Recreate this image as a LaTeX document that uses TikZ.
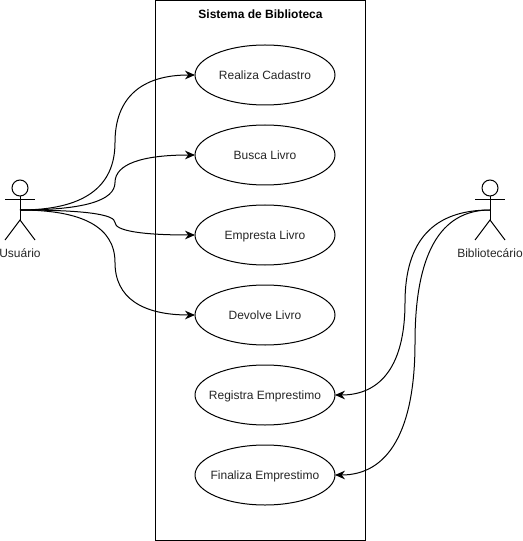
\documentclass[tikz,border=0pt]{standalone}
\usepackage{fontspec}
\setmainfont{Liberation Sans}
\usetikzlibrary{arrows.meta,shapes.geometric}

\tikzset{
    usecase/.style={draw, ellipse, fill=white, minimum width=105pt, minimum height=45pt,
        inner xsep=-12pt, inner ysep=0pt, outer sep=0pt, text height=8.5pt, text depth=2pt,
        font=\fontsize{9}{11}\selectfont, text=black!85},
    actorlabel/.style={inner sep=0pt, text height=8.5pt, text depth=2pt,
        font=\fontsize{9}{11}\selectfont, text=black!85},
    flow/.style={-{Stealth[length=7.5pt,width=6.5pt]}},
}

\begin{document}
\begin{tikzpicture}[x=0.75pt, y=-0.75pt, line width=0.75pt]
            \useasboundingbox (0,0) rectangle (523,541);

            \coordinate (U) at (20,210);
            \coordinate (B) at (490,210);

            % system box
            \draw (155.5,0.5) rectangle (365.5,540.5);
            \node[actorlabel, text=black, font=\fontsize{9}{11}\selectfont\bfseries] (titulo) at (260.5,14) {Sistema de Biblioteca};

            % use cases
            \node[usecase] (cadastro) at (265,75) {Realiza Cadastro};
            \node[usecase] (busca) at (265,155) {Busca Livro};
            \node[usecase] (empresta) at (265,235) {Empresta Livro};
            \node[usecase] (devolve) at (265,315) {Devolve Livro};
            \node[usecase] (registra) at (265,395) {Registra Emprestimo};
            \node[usecase] (finaliza) at (265,475) {Finaliza Emprestimo};

            % actor left
            \node[draw, circle, minimum size=12pt, inner sep=0pt, outer sep=0pt] (Uhead) at (20,188) {};
            \coordinate (Uhip) at (20,220);
            \draw (Uhead.south)--(Uhip);
            \draw (5,200)--(35,200);
            \draw (5,240)--(Uhip)--(35,240);
            \node[actorlabel] (usuario) at (20,253.5) {Usuário};

            % actor right
            \node[draw, circle, minimum size=12pt, inner sep=0pt, outer sep=0pt] (Bhead) at (490,188) {};
            \coordinate (Bhip) at (490,220);
            \draw (Bhead.south)--(Bhip);
            \draw (475,200)--(505,200);
            \draw (475,240)--(Bhip)--(505,240);
            \node[actorlabel] (bibliotecario) at (490,253.5) {Bibliotecário};

            % connectors
            \draw[flow] (U) .. controls +(63.3,0) and +(0,45) .. (115,142.5)
                .. controls +(0,-45) and +(-53.3,0) .. (cadastro.west);
            \draw[flow] (U) .. controls +(63.3,0) and +(0,18.3) .. (115,182.5)
                .. controls +(0,-18.3) and +(-53.3,0) .. (busca.west);
            \draw[flow] (U) .. controls +(63.3,0) and +(0,-8.3) .. (115,222.5)
                .. controls +(0,8.3) and +(-53.3,0) .. (empresta.west);
            \draw[flow] (U) .. controls +(63.3,0) and +(0,-35) .. (115,262.5)
                .. controls +(0,35) and +(-53.3,0) .. (devolve.west);
            \draw[flow] (B) .. controls +(-56.7,0) and +(0,-61.7) .. (405,302.5)
                .. controls +(0,61.7) and +(46.7,0) .. (registra.east);
            \draw[flow] (B) .. controls +(-50,0) and +(0,-88.3) .. (415,342.5)
                .. controls +(0,88.3) and +(53.3,0) .. (finaliza.east);
        \end{tikzpicture}
\end{document}
